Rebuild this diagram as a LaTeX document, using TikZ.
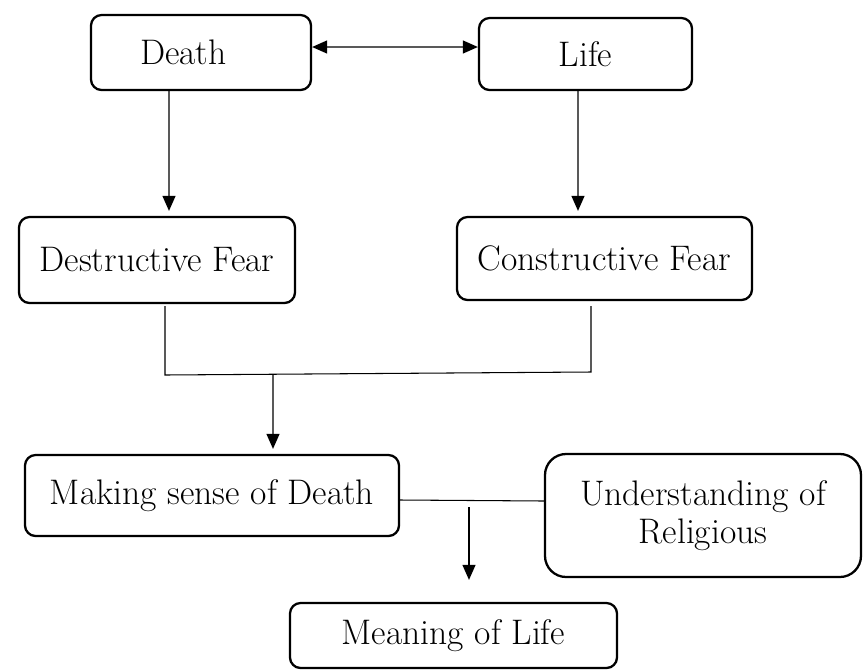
\documentclass[tikz,border=0pt]{standalone}
\usepackage{tikz}
\usetikzlibrary{arrows.meta,positioning,calc}
\tikzset{
  box/.style={draw=black, line width=1.3pt, rounded corners=6pt, align=center,
              font=\fontsize{20.2}{21.6}\selectfont},
  arr/.style={-{Triangle[length=3mm,width=2.6mm]}, line width=0.7pt},
  dbl/.style={{Triangle[length=3mm,width=2.6mm]}-{Triangle[length=3mm,width=2.6mm]}, line width=0.7pt},
  ln/.style={line width=0.6pt},
}

\begin{document}
\begin{tikzpicture}
  \useasboundingbox (0,0) rectangle (17.28,-13.38);
  % top row
  \node[box, minimum height=1.5cm, text width=2.44cm, inner xsep=0.98cm, align=left] (death) at (4.02,-1.05) {Death};
  \node[box, minimum width=4.26cm, minimum height=1.44cm] (life) at (11.71,-1.08) {Life};
  % fears
  \node[box, minimum width=5.52cm, minimum height=1.72cm] (destr) at (3.14,-5.2) {Destructive Fear};
  \node[box, minimum width=5.9cm, minimum height=1.66cm] (constr) at (12.09,-5.17) {Constructive Fear};
  % lower part
  \node[box, minimum width=7.48cm, minimum height=1.62cm] (sense) at (4.24,-9.91) {Making sense of Death};
  \node[box, minimum width=6.32cm, minimum height=2.46cm, rounded corners=12pt] (relig) at (14.06,-10.31) {Understanding of\\Religious};
  \node[box, minimum width=6.54cm, minimum height=1.3cm] (mean) at (9.07,-12.71) {Meaning of Life};

  \draw[dbl] ([yshift=0.11cm]death.east) -- ([yshift=0.14cm]life.west);
  \draw[arr] ([xshift=-0.64cm]death.south) -- ([xshift=0.24cm,yshift=0.1cm]destr.north);
  \draw[arr] ([xshift=-0.15cm]life.south) -- ([xshift=-0.53cm,yshift=0.1cm]constr.north);

  \coordinate (jl) at (3.3,-7.5);
  \coordinate (jr) at (11.82,-7.44);
  \coordinate (jm) at (5.46,-7.49);
  \coordinate (ms) at (9.38,-10.14);
  \draw[ln] ([xshift=0.16cm,yshift=-0.04cm]destr.south) -- (jl) -- (jr)
            -- ([xshift=-0.27cm,yshift=-0.1cm]constr.south);
  \draw[arr] (jm) -- ([xshift=1.22cm,yshift=0.1cm]sense.north);
  \draw[ln] ([yshift=-0.09cm]sense.east) -- ([yshift=0.29cm]relig.west);
  \draw[arr] (ms) -- ([xshift=0.31cm,yshift=0.44cm]mean.north);
\end{tikzpicture}
\end{document}
